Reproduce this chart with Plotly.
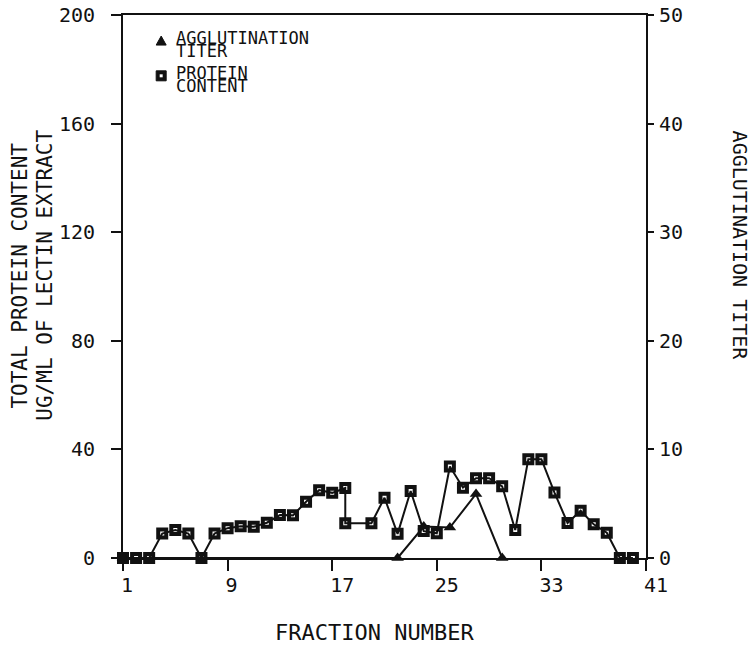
import plotly.graph_objects as go

# ---- data ----
protein_fraction = [1, 2, 3, 4, 5, 6, 7, 8, 9, 10, 11, 12, 13, 14, 15, 16, 17, 18, 18, 20,
                    21, 22, 23, 24, 25, 26, 27, 28, 29, 30, 31, 32, 33, 34, 35, 36, 37, 38, 39, 40]
protein_content = [0, 0, 0, 9, 10.3, 9, 0, 9, 11, 11.7, 11.5, 13, 15.8, 15.7, 20.7, 25, 24, 25.8, 12.8, 12.8,
                   22.2, 8.9, 24.7, 9.9, 9.1, 33.7, 25.9, 29.4, 29.4, 26.4, 10.3, 36.4, 36.4, 24.1, 12.9, 17.4, 12.4, 9.3, 0, 0]

titer_fraction = [1, 22, 24, 26, 28, 30]
agglutination_titer = [0, 0, 2.9, 2.8, 5.9, 0]

x_ticks = [1, 9, 17, 25, 33, 41]
left_ticks = [0, 40, 80, 120, 160, 200]
right_ticks = [0, 10, 20, 30, 40, 50]

FONT = "DejaVu Sans Mono"
INK = "#111111"

fig = go.Figure()

fig.add_trace(go.Scatter(
    x=protein_fraction, y=protein_content, mode="lines+markers",
    line=dict(color=INK, width=2),
    marker=dict(symbol="square-open", size=8, color=INK, line=dict(color=INK, width=4)),
    cliponaxis=False, showlegend=False, name="PROTEIN CONTENT"))

fig.add_trace(go.Scatter(
    x=titer_fraction, y=agglutination_titer, mode="lines+markers", yaxis="y2",
    line=dict(color=INK, width=2),
    marker=dict(symbol="triangle-up", size=11, color=INK),
    cliponaxis=False, showlegend=False, name="AGGLUTINATION TITER"))

axis_common = dict(showline=True, linecolor=INK, linewidth=2, ticks="outside",
                   tickcolor=INK, tickwidth=2, showgrid=False, zeroline=False,
                   automargin=False,
                   tickfont=dict(family=FONT, size=20, color=INK))

fig.update_layout(
    width=756, height=645,
    margin=dict(l=123, r=110, t=15, b=87, autoexpand=False),
    paper_bgcolor="white", plot_bgcolor="white",
    xaxis=dict(range=[1, 41], tickvals=x_ticks, ticklen=11, mirror=True,
               ticklabelposition="outside right", ticklabelshift=-4, ticklabelstandoff=8,
               **axis_common),
    yaxis=dict(range=[0, 200], tickvals=left_ticks, ticklen=10, ticklabelstandoff=12,
               **axis_common),
    yaxis2=dict(range=[0, 50], tickvals=right_ticks, ticklen=6, overlaying="y", side="right",
                ticklabelstandoff=1, **axis_common),
)

def ann(text, x, y, size, angle=0, xanchor="center"):
    fig.add_annotation(text=text, x=x, y=y, xref="paper", yref="paper", showarrow=False,
                       textangle=angle, xanchor=xanchor, yanchor="middle", borderpad=0,
                       font=dict(family=FONT, size=size, color=INK))

# axis titles
ann("FRACTION NUMBER", 0.481, -0.138, 22)
ann("TOTAL PROTEIN CONTENT", -0.196, 0.521, 21, angle=-90)
ann("UG/ML OF LECTIN EXTRACT", -0.148, 0.521, 21, angle=-90)
ann("AGGLUTINATION TITER", 1.179, 0.576, 20, angle=90)

# legend text
ann("AGGLUTINATION", 0.099, 0.958, 17, xanchor="left")
ann("TITER", 0.099, 0.934, 17, xanchor="left")
ann("PROTEIN", 0.099, 0.893, 17, xanchor="left")
ann("CONTENT", 0.099, 0.869, 17, xanchor="left")

# legend glyphs
fig.add_shape(type="path", xref="paper", yref="paper", xsizemode="pixel", ysizemode="pixel",
              xanchor=0.073, yanchor=0.952, path="M -5,-4 L 5,-4 L 0,5 Z",
              fillcolor=INK, line=dict(color=INK, width=1))
fig.add_shape(type="rect", xref="paper", yref="paper", xsizemode="pixel", ysizemode="pixel",
              xanchor=0.073, yanchor=0.888, x0=-5, x1=5, y0=-5, y1=5,
              fillcolor=INK, line=dict(color=INK, width=1))
fig.add_shape(type="rect", xref="paper", yref="paper", xsizemode="pixel", ysizemode="pixel",
              xanchor=0.073, yanchor=0.888, x0=-1.5, x1=1.5, y0=-1.5, y1=1.5,
              fillcolor="white", line=dict(width=0))

fig.write_html("out.html", config={"displayModeBar": False},
               post_script="document.body.style.margin='0px';document.body.style.padding='0px';")
